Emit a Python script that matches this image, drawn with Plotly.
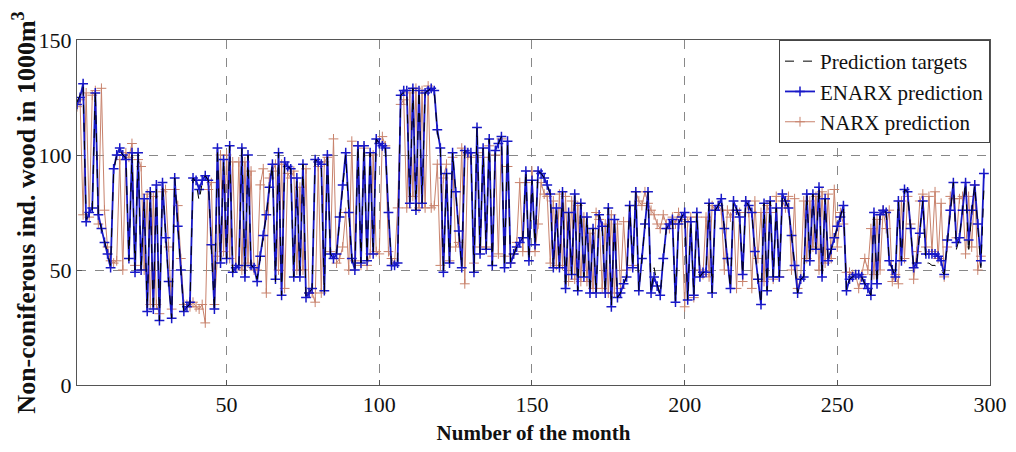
import plotly.graph_objects as go

targets = [
    123, 126, 130, 72, 74, 76, 128, 73, 68, 63, 57, 52, 93, 100, 102, 100, 99, 54, 100, 50,
    101, 49, 80, 33, 84, 32, 87, 28, 87, 65, 45, 29, 90, 70, 50, 31, 34, 35, 90, 88,
    80, 88, 91, 89, 60, 32, 103, 54, 98, 55, 104, 49, 50, 51, 103, 48, 100, 52, 51, 46,
    55, 64, 74, 85, 96, 45, 101, 39, 97, 95, 94, 47, 89, 47, 96, 38, 40, 42, 98, 97,
    96, 40, 101, 57, 55, 57, 72, 87, 100, 75, 55, 50, 104, 53, 104, 54, 101, 57, 107, 105,
    104, 103, 75, 52, 52, 53, 126, 127, 128, 79, 129, 76, 128, 79, 127, 128, 129, 128, 110, 103,
    49, 92, 53, 101, 84, 67, 51, 102, 101, 101, 49, 112, 57, 103, 59, 107, 52, 102, 105, 108,
    51, 106, 53, 57, 60, 62, 64, 93, 54, 89, 61, 93, 92, 90, 87, 83, 51, 77, 51, 84,
    42, 75, 48, 83, 41, 79, 47, 73, 40, 68, 40, 74, 69, 40, 77, 34, 72, 38, 40, 44,
    47, 78, 51, 84, 41, 55, 70, 84, 40, 51, 44, 39, 55, 68, 70, 72, 36, 70, 73, 75,
    37, 71, 39, 75, 47, 49, 49, 79, 40, 76, 78, 81, 68, 55, 42, 80, 76, 73, 48, 80,
    78, 75, 58, 46, 35, 79, 41, 80, 47, 77, 47, 83, 80, 77, 65, 52, 40, 46, 47, 83,
    54, 83, 59, 86, 47, 81, 54, 59, 64, 69, 73, 78, 41, 46, 47, 48, 48, 47, 44, 42,
    39, 75, 44, 74, 76, 75, 54, 50, 47, 80, 54, 85, 84, 68, 51, 53, 66, 80, 53, 53,
    52, 52, 51, 50, 48, 62, 75, 88, 59, 64, 76, 88, 57, 75, 87, 68, 51, 85,
]

enarx = [
    122, 125, 131, 71, 75, 77, 127, 74, 68, 62, 57, 51, 94, 100, 103, 100, 98, 55, 101, 49,
    101, 50, 81, 32, 84, 33, 87, 28, 88, 64, 45, 29, 90, 69, 50, 32, 34, 36, 90, 89,
    85, 89, 91, 89, 61, 33, 103, 53, 98, 55, 104, 49, 51, 52, 103, 47, 100, 52, 51, 45,
    56, 65, 74, 86, 96, 46, 101, 39, 97, 95, 94, 47, 90, 47, 96, 38, 40, 42, 98, 97,
    96, 41, 100, 57, 55, 57, 73, 87, 101, 75, 55, 50, 104, 53, 104, 54, 101, 57, 107, 105,
    104, 103, 75, 52, 52, 53, 126, 128, 128, 79, 129, 76, 128, 79, 127, 128, 129, 128, 111, 103,
    49, 92, 53, 101, 84, 67, 51, 102, 101, 101, 49, 112, 57, 103, 59, 107, 52, 102, 105, 108,
    51, 106, 53, 57, 60, 62, 64, 93, 54, 89, 61, 93, 92, 90, 87, 83, 51, 77, 51, 84,
    42, 75, 48, 83, 41, 79, 47, 73, 40, 68, 40, 74, 69, 40, 77, 34, 72, 38, 40, 44,
    47, 78, 51, 84, 41, 55, 70, 84, 40, 47, 43, 39, 55, 68, 70, 72, 36, 70, 73, 75,
    37, 71, 39, 75, 47, 49, 49, 79, 40, 76, 78, 81, 68, 55, 42, 80, 76, 73, 48, 80,
    78, 75, 58, 46, 35, 79, 41, 80, 47, 77, 47, 83, 80, 77, 65, 52, 40, 46, 47, 83,
    54, 83, 59, 86, 47, 81, 54, 59, 64, 69, 73, 78, 41, 46, 47, 48, 48, 47, 44, 42,
    39, 75, 44, 74, 76, 75, 54, 50, 47, 80, 54, 85, 84, 68, 51, 53, 66, 80, 57, 57,
    57, 57, 56, 54, 48, 63, 76, 88, 62, 64, 76, 88, 63, 76, 87, 70, 54, 92,
]

narx = [
    121, 124, 74, 127, 73, 126, 128, 70, 129, 76, 60, 54, 53, 54, 98, 50, 101, 99, 105, 52,
    98, 95, 50, 83, 35, 82, 35, 31, 84, 85, 60, 33, 85, 78, 55, 35, 35, 34, 36, 34,
    33, 35, 27, 85, 88, 35, 56, 100, 58, 100, 55, 97, 52, 97, 50, 97, 53, 93, 50, 50,
    87, 94, 40, 90, 93, 96, 50, 96, 42, 92, 90, 93, 50, 86, 50, 94, 40, 40, 36, 95,
    40, 97, 99, 58, 107, 53, 55, 60, 75, 50, 106, 54, 104, 52, 103, 52, 57, 100, 58, 57,
    108, 104, 58, 55, 53, 77, 122, 124, 77, 127, 82, 129, 77, 128, 77, 130, 77, 78, 96, 52,
    90, 96, 54, 99, 60, 62, 103, 44, 100, 99, 53, 101, 60, 99, 60, 104, 56, 100, 57, 107,
    56, 95, 53, 57, 62, 88, 58, 88, 58, 93, 58, 70, 88, 83, 82, 53, 80, 52, 83, 52,
    82, 45, 80, 46, 78, 45, 73, 45, 66, 42, 75, 72, 42, 70, 40, 74, 40, 70, 42, 71,
    50, 78, 52, 84, 80, 78, 84, 79, 76, 74, 70, 68, 74, 70, 68, 73, 70, 75, 72, 34,
    71, 73, 38, 73, 50, 48, 73, 47, 78, 76, 78, 76, 50, 76, 73, 76, 42, 75, 45, 80,
    75, 42, 80, 55, 75, 45, 78, 75, 46, 82, 47, 80, 77, 82, 50, 81, 42, 46, 80, 55,
    80, 60, 82, 50, 84, 53, 83, 55, 85, 60, 75, 70, 49, 49, 48, 48, 42, 48, 55, 50,
    68, 48, 72, 50, 76, 68, 76, 45, 48, 44, 80, 55, 82, 70, 46, 58, 80, 83, 60, 82,
    58, 84, 55, 79, 47, 60, 82, 81, 64, 81, 82, 57, 82, 60, 87, 50, 56,
]

months_t = list(range(1, len(targets) + 1))
months_e = list(range(1, len(enarx) + 1))
months_n = list(range(1, len(narx) + 1))

x_ticks = [50, 100, 150, 200, 250, 300]
y_ticks = [0, 50, 100, 150]

FONT = "Liberation Serif, Times New Roman, serif"
BLUE = "#1818c8"
TAN = "#c8826c"

fig = go.Figure()
fig.add_trace(go.Scatter(
    x=months_n, y=narx, mode="lines+markers", name="NARX prediction",
    line=dict(color=TAN, width=1),
    marker=dict(symbol="cross-thin", size=7, line=dict(color=TAN, width=1)),
    legendrank=3,
))
fig.add_trace(go.Scatter(
    x=months_e, y=enarx, mode="lines+markers", name="ENARX prediction",
    line=dict(color=BLUE, width=1.8),
    marker=dict(symbol="cross-thin", size=7, line=dict(color=BLUE, width=1.5)),
    legendrank=2,
))
fig.add_trace(go.Scatter(
    x=months_t, y=targets, mode="lines", name="Prediction targets",
    line=dict(color="black", width=1, dash="dash"),
    legendrank=1,
))

axis_common = dict(
    showline=True, linecolor="#555555", linewidth=1, mirror=True,
    ticks="inside", ticklen=5, tickcolor="#555555",
    showgrid=True, gridcolor="#888888", griddash="dash", gridwidth=1,
    zeroline=False, automargin=False,
    tickfont=dict(family=FONT, size=22, color="#111111"),
)

fig.update_xaxes(
    range=[1, 300], tickvals=x_ticks, ticktext=[str(v) for v in x_ticks],
    title=dict(text="<b>Number of the month</b>",
               font=dict(family=FONT, size=21, color="#111111"), standoff=8),
    **axis_common,
)
fig.update_yaxes(
    range=[0, 150], tickvals=y_ticks, ticktext=[str(v) for v in y_ticks],
    title=dict(text="<b>Non-coniferous ind. wood in 1000m<sup>3</sup></b>",
               font=dict(family=FONT, size=26, color="#111111"), standoff=2),
    **axis_common,
)

fig.update_layout(
    width=1008, height=444,
    margin=dict(l=69, r=26, t=32, b=67),
    paper_bgcolor="white", plot_bgcolor="white",
    showlegend=True,
    legend=dict(
        x=1, y=1, xanchor="right", yanchor="top",
        bgcolor="white", bordercolor="#444444", borderwidth=1,
        font=dict(family=FONT, size=21, color="#111111"),
        tracegroupgap=0, itemwidth=30,
    ),
)

fig.write_html("out.html")
